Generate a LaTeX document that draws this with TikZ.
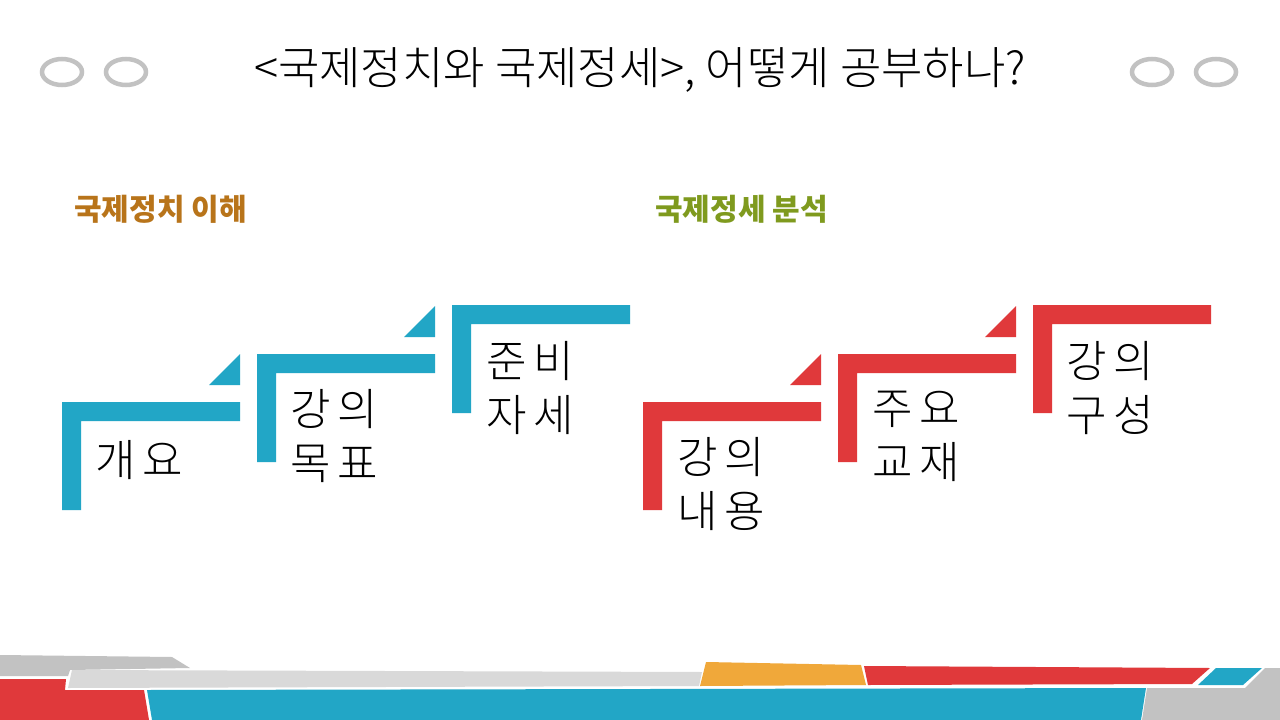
\documentclass[tikz,border=0pt]{standalone}
\usepackage{fontspec}
\newfontfamily\kr{Noto Sans CJK KR}
\newfontfamily\krl{Noto Sans CJK KR Light}
\definecolor{cblue}{HTML}{22A6C6}
\definecolor{cred}{HTML}{E0393B}
\definecolor{corange}{HTML}{F0A83A}
\definecolor{cgray}{HTML}{C2C2C2}
\definecolor{clgray}{HTML}{D9D9D9}
\definecolor{csub1}{HTML}{B8741A}
\definecolor{csub2}{HTML}{7F9A1E}
\tikzset{
  ring/.style={draw=cgray,line width=4.5pt},
  lbl/.style={anchor=west,font=\krl\fontsize{44}{54}\selectfont,align=left,inner sep=0pt},
  sub/.style={anchor=west,font=\kr\bfseries\fontsize{30}{34}\selectfont,inner sep=0pt},
}
\newcommand{\stepL}[4]{% x, ytop, color, triangle?
  \fill[#3] (#1,#2) -- ++(178,0) -- ++(0,19) -- ++(-159,0) -- ++(0,89) -- ++(-19,0) -- cycle;
  \ifnum#4=1 \fill[#3] (#1+147,#2-17) -- (#1+178,#2-48) -- (#1+178,#2-17) -- cycle;\fi
}
\begin{document}
\begin{tikzpicture}[x=1pt,y=-1pt]
\useasboundingbox (0,0) rectangle (1280,720);
\fill[white] (0,0) rectangle (1280,720);
\foreach \cx in {62,126,1152,1216} \draw[ring] (\cx,72) ellipse (20 and 13);
\node[font=\krl\fontsize{45}{50}\selectfont] (title) at (640,70) {<국제정치와 국제정세>, 어떻게 공부하나?};
\node[sub,text=csub1] (s1) at (74,209) {국제정치 이해};
\node[sub,text=csub2] (s2) at (655,209) {국제정세 분석};
\stepL{62}{402}{cblue}{1}
\stepL{257}{354}{cblue}{1}
\stepL{452}{305}{cblue}{0}
\stepL{643}{402}{cred}{1}
\stepL{838}{354}{cred}{1}
\stepL{1033}{305}{cred}{0}
\node[lbl] (a1) at (95,460) {개\,요};
\node[lbl] (a2) at (290,436) {강\,의\\목\,표};
\node[lbl] (a3) at (486,388) {준\,비\\자\,세};
\node[lbl] (b1) at (677,484) {강\,의\\내\,용};
\node[lbl] (b2) at (872,436) {주\,요\\교\,재};
\node[lbl] (b3) at (1066,388) {강\,의\\구\,성};
% bottom strip
\fill[cgray] (0,655) -- (172,657) -- (190,668) -- (70,670) -- (68,676) -- (0,676) -- cycle;
\fill[clgray] (72,670) -- (702,672) -- (699,686) -- (68,688) -- cycle;
\fill[corange] (706,662) -- (861,665) -- (866,685) -- (700,686) -- cycle;
\fill[cred] (864,666) -- (1210,668) -- (1192,684) -- (868,685) -- cycle;
\fill[cblue] (1216,668) -- (1262,668) -- (1243,685) -- (1198,685) -- cycle;
\fill[cgray] (1265,668) -- (1280,668) -- (1280,720) -- (1142,720) -- (1147,688) -- (1245,688) -- cycle;
\fill[cblue] (147,690) -- (1146,688) -- (1141,720) -- (152,720) -- cycle;
\fill[cred] (0,679) -- (66,679) -- (65,690) -- (144,690) -- (149,720) -- (0,720) -- cycle;
\end{tikzpicture}
\end{document}
